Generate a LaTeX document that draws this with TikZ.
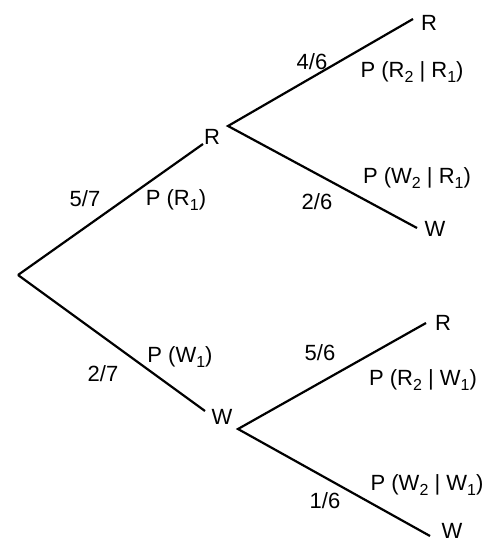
\documentclass[tikz,border=0pt]{standalone}
\usepackage{fontspec}
\setmainfont{Liberation Sans}
\newcommand{\sbs}[1]{\raisebox{-0.45ex}{\fontsize{16}{16}\selectfont #1}}
\begin{document}
\begin{tikzpicture}[x=1pt,y=-1pt,
  branch/.style={line width=2.2pt,black},
  lab/.style={inner sep=0pt,font=\fontsize{22}{25}\selectfont}]
\useasboundingbox (0,0) rectangle (493,543);
% junction coordinates
\coordinate (root) at (18,275);
\coordinate (r1end) at (203,144);
\coordinate (r1) at (228,126);
\coordinate (w1end) at (205,411);
\coordinate (w1) at (238,429);
\coordinate (rrend) at (413,19);
\coordinate (rwend) at (417,228);
\coordinate (wrend) at (426,323);
\coordinate (wwend) at (430,536);
% node labels
\node[lab] (R1) at (212,137) {R};
\node[lab] (W1) at (222,417) {W};
\node[lab] (RR) at (429,23) {R};
\node[lab] (RW) at (435,229) {W};
\node[lab] (WR) at (443,323) {R};
\node[lab] (WW) at (452,531) {W};
% branches
\draw[branch] (root) -- (r1end);
\draw[branch] (root) -- (w1end);
\draw[branch] (rrend) -- (r1) -- (rwend);
\draw[branch] (wrend) -- (w1) -- (wwend);
% probabilities
\node[lab] (p57) at (85,199) {5/7};
\node[lab] (pR1) at (176,200) {P (R\sbs{1})};
\node[lab] (p27) at (103,374) {2/7};
\node[lab] (pW1) at (180,357) {P (W\sbs{1})};
\node[lab] (p46) at (312,62) {4/6};
\node[lab] (pRR) at (412,72) {P (R\sbs{2} | R\sbs{1})};
\node[lab] (p26) at (317,202) {2/6};
\node[lab] (pRW) at (417,178) {P (W\sbs{2} | R\sbs{1})};
\node[lab] (p56) at (320,353) {5/6};
\node[lab] (pWR) at (423,380) {P (R\sbs{2} | W\sbs{1})};
\node[lab] (p16) at (325,501) {1/6};
\node[lab] (pWW) at (427,485) {P (W\sbs{2} | W\sbs{1})};
\end{tikzpicture}
\end{document}
